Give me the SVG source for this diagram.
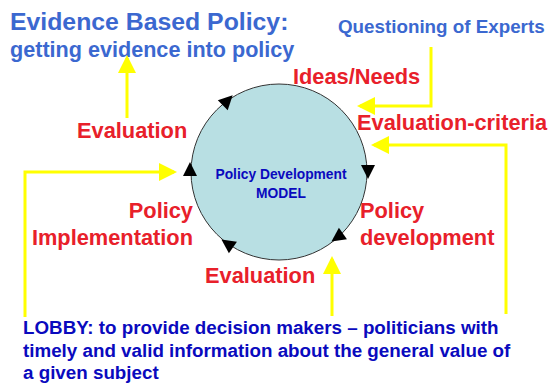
<svg xmlns="http://www.w3.org/2000/svg" width="549" height="387" viewBox="0 0 549 387">
  <style>
    text { font-family: "Liberation Sans", Arial, sans-serif; font-weight: bold; }
    .title { fill: #3B68D0; }
    .red { fill: #E8202A; font-size: 21.8px; }
    .navy { fill: #0A0ABE; }
    .feed { fill: none; stroke: #FFFF00; stroke-width: 3; }
    .cycle { fill: #000000; }
  </style>
  <defs>
    <marker id="yarrow" markerWidth="6" markerHeight="6" refX="5" refY="3" orient="auto" markerUnits="strokeWidth">
      <path d="M0,0 L6,3 L0,6 z" fill="#FFFF00"/>
    </marker>
    <path id="tip" d="M0,-8 L7,6 L-7,6 z"/>
  </defs>

  <!-- headings -->
  <g id="heading">
    <text class="title" x="10" y="30" font-size="24.8">Evidence Based Policy:</text>
    <text class="title" x="10" y="57" font-size="21.6">getting evidence into policy</text>
  </g>
  <g id="experts">
    <text class="title" x="338" y="33" font-size="18.8">Questioning of Experts</text>
  </g>

  <!-- central model -->
  <g id="model">
    <circle cx="279" cy="172" r="88" fill="#B8DFE3" stroke="#333" stroke-width="1"/>
    <text class="navy" x="281" y="179" font-size="13.8" text-anchor="middle">Policy Development</text>
    <text class="navy" x="281" y="198" font-size="13.8" text-anchor="middle">MODEL</text>
    <!-- clockwise direction marks -->
    <g class="cycle">
      <use href="#tip" transform="translate(227,101) rotate(45)"/>
      <use href="#tip" transform="translate(368,171) rotate(180)"/>
      <use href="#tip" transform="translate(338,237) rotate(235)"/>
      <use href="#tip" transform="translate(228,244) rotate(305)"/>
      <use href="#tip" transform="translate(190,170) rotate(0)"/>
    </g>
  </g>

  <!-- stage labels -->
  <g id="ideas"><text class="red" x="293" y="84">Ideas/Needs</text></g>
  <g id="criteria"><text class="red" x="357" y="130">Evaluation-criteria</text></g>
  <g id="eval-top"><text class="red" x="77" y="138">Evaluation</text></g>
  <g id="policy-dev">
    <text class="red" x="360" y="218">Policy</text>
    <text class="red" x="360" y="245">development</text>
  </g>
  <g id="policy-impl">
    <text class="red" x="193" y="218" text-anchor="end">Policy</text>
    <text class="red" x="193" y="245" text-anchor="end">Implementation</text>
  </g>
  <g id="eval-bottom"><text class="red" x="205" y="283">Evaluation</text></g>

  <!-- lobby note -->
  <g id="lobby">
    <text class="navy" x="23" y="334" font-size="18.8">LOBBY: to provide decision makers – politicians with</text>
    <text class="navy" x="23" y="357" font-size="18.8">timely and valid information about the general value of</text>
    <text class="navy" x="23" y="379" font-size="18.8">a given subject</text>
  </g>

  <!-- yellow feedback connectors -->
  <g id="connectors">
    <polyline class="feed" points="431,47 431,106 360,106" marker-end="url(#yarrow)"/>
    <polyline class="feed" points="506,314 506,145 374,145" marker-end="url(#yarrow)"/>
    <polyline class="feed" points="332,316 332,259" marker-end="url(#yarrow)"/>
    <polyline class="feed" points="25,317 25,172 174,172" marker-end="url(#yarrow)"/>
    <polyline class="feed" points="127,118 127,58" marker-end="url(#yarrow)"/>
  </g>
</svg>
